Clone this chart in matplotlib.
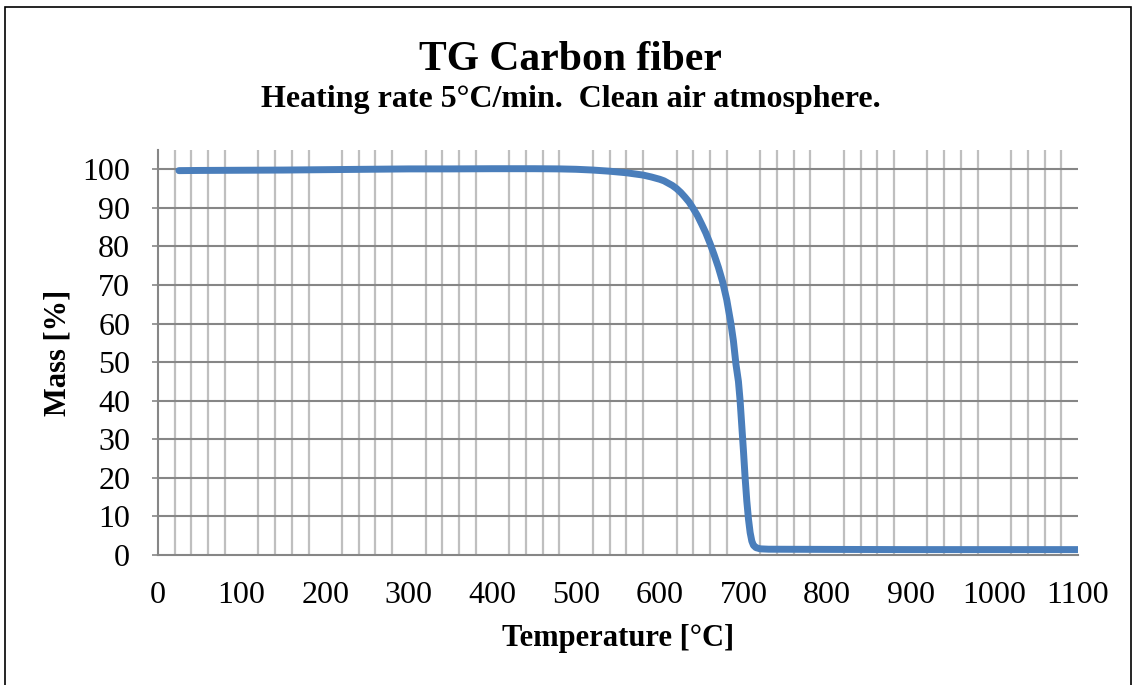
import matplotlib.pyplot as plt
from matplotlib.patches import Rectangle

# temperature [°C] and remaining mass [%] of the TG run
temperature = [25, 50, 100, 150, 200, 250, 300, 350, 400, 450, 480, 500, 520, 540, 560,
               580, 590, 600, 605, 610, 615, 620, 625, 630, 635, 640, 645, 650, 655, 660,
               665, 670, 675, 680, 685, 688, 691, 694, 696, 698, 700, 702, 704, 706, 708,
               710, 712, 715, 720, 730, 800, 900, 1000, 1100]
mass = [99.65, 99.7, 99.75, 99.8, 99.9, 100.0, 100.1, 100.1, 100.15, 100.15, 100.1, 100.0, 99.8, 99.5, 99.1,
        98.5, 98.0, 97.4, 97.0, 96.4, 95.8, 95.0, 94.0, 92.8, 91.5, 89.8, 88.0, 85.8, 83.5, 80.8,
        77.8, 74.6, 70.9, 66.2, 60.0, 55.5, 49.5, 45.0, 40.0, 33.5, 27.0, 20.0, 14.0, 9.3, 5.8,
        3.6, 2.5, 1.9, 1.6, 1.5, 1.45, 1.4, 1.4, 1.4]

x_ticks = list(range(0, 1101, 100))
y_ticks = list(range(0, 101, 10))

plt.rcParams['font.family'] = ['Liberation Serif', 'DejaVu Serif']

fig = plt.figure(figsize=(11.35, 6.85), dpi=100)
ax = fig.add_axes([158 / 1135, 1 - 555 / 685, 920 / 1135, 405 / 685])

# minor vertical grid every 20 °C, skipping the hundreds
for t in range(20, 1100, 20):
    if t % 100:
        ax.axvline(t, color='#bfbfbf', lw=1.6, zorder=1)
for v in y_ticks[1:]:
    ax.axhline(v, color='#868686', lw=1.5, zorder=1)

ax.plot(temperature, mass, color='#4a7ebb', lw=5, solid_capstyle='round',
        solid_joinstyle='round', zorder=3)

ax.set_xlim(0, 1100)
ax.set_ylim(0, 105)
ax.set_xticks(x_ticks)
ax.set_yticks(y_ticks)
ax.tick_params(axis='x', length=0, pad=19, labelsize=23)
ax.tick_params(axis='y', length=4, width=1.2, color='#868686', pad=16, labelsize=23)

for side in ['top', 'right']:
    ax.spines[side].set_visible(False)
for side in ['left', 'bottom']:
    ax.spines[side].set_color('#868686')
    ax.spines[side].set_linewidth(1.5)

ax.set_xlabel('Temperature [°C]', fontsize=22, fontweight='bold', labelpad=10)
ax.set_ylabel('Mass [%]', fontsize=22, fontweight='bold', labelpad=7)

fig.text(0.503, 1 - 70 / 685, 'TG Carbon fiber', ha='center', va='baseline',
         fontsize=30, fontweight='bold')
fig.text(0.503, 1 - 107 / 685, 'Heating rate 5°C/min.  Clean air atmosphere.',
         ha='center', va='baseline', fontsize=23, fontweight='bold')

# outer chart frame
fig.patches.append(Rectangle((4.5 / 1135, -2 / 685), 1126 / 1135, 680 / 685,
                             transform=fig.transFigure, fill=False,
                             edgecolor='black', lw=1.2))

fig.savefig('out.png', dpi=100)
